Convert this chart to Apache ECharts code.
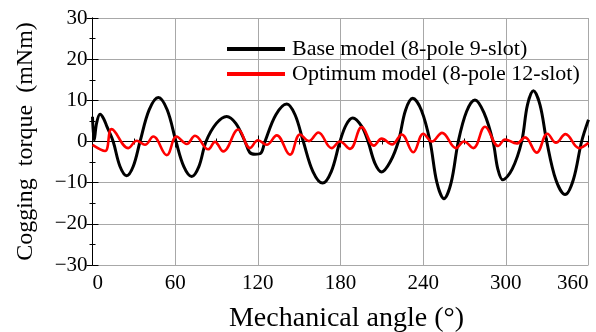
<!DOCTYPE html>
<html>
<head>
<meta charset="utf-8">
<script src="https://cdn.jsdelivr.net/npm/echarts@6/dist/echarts.min.js"></script>
<style>
html,body{margin:0;padding:0;background:#fff;}
#chart{width:596px;height:332px;}
</style>
</head>
<body>
<div id="chart"></div>
<script>
// Base model (8-pole 9-slot)
var baseAngles = [0, 1.2, 3, 5.5, 8, 10.5, 15, 19.9, 24.8, 29.6, 34.5, 41.1, 47.8, 54.2, 60.6, 66.3, 72, 77.2, 82.4, 89.9, 97.4, 104, 110.7, 114, 118, 122, 125.2, 133.1, 141, 147, 153, 160, 167, 173.3, 179.6, 184.2, 188.9, 195.5, 200, 205, 209.9, 216, 222, 227.2, 232.4, 238.7, 245, 250, 255.1, 260.3, 265.5, 271.5, 277.6, 284.1, 290.7, 294.2, 297.7, 304.6, 311.5, 315.7, 320, 324.8, 329.7, 336.3, 343, 349, 355, 360];
var baseValues = [6.0, 0.3, 4.5, 6.6, 5.6, 3.6, 0, -6.0, -8.3, -6.0, 0, 7.7, 10.7, 7.7, 0, -6.1, -8.5, -6.1, 0, 4.4, 6.1, 4.4, 0, -2.6, -3.1, -2.9, 0, 6.5, 9.1, 6.5, 0, -7.3, -10.1, -7.3, 0, 4.1, 5.7, 3.6, 0, -5.3, -7.4, -5.0, 0, 7.6, 10.5, 7.6, 0, -10.0, -13.9, -10.0, 0, 7.3, 10.1, 7.0, 0, -6.7, -9.3, -6.7, 0, 8.9, 12.3, 8.9, 0, -9.3, -12.9, -9.3, 0, 5.3];
// Optimum model (8-pole 12-slot)
var optAngles = [0, 9.1, 13.9, 26.0, 32.1, 38.1, 44.1, 53.9, 61.0, 68.4, 74.4, 84.0, 88.9, 94.9, 105.8, 114.3, 120.1, 126.4, 133.7, 143.3, 150.6, 157.1, 163.9, 173.6, 179.6, 186.9, 195.4, 204.3, 209.9, 217.4, 224.4, 232.8, 240.1, 246.4, 253.7, 263.8, 269.6, 276.4, 284.9, 294.5, 299.4, 307.9, 313.9, 322.4, 330.2, 336.4, 343.3, 353.1, 360];
var optValues = [-0.8, -2.3, 3.0, -1.6, 0.2, -0.8, 1.2, -3.3, 1.2, -0.6, 1.4, -1.9, -0.1, -2.4, 2.9, -1.6, 0.3, -0.8, 1.5, -3.2, 1.7, 0.1, 2.2, -1.6, 0.0, -1.8, 3.5, -1.0, 0.7, -0.7, 1.7, -2.6, 1.9, 0.0, 2.1, -1.6, 0.0, -1.6, 3.6, -1.1, 0.5, -0.5, 1.0, -2.7, 1.9, -0.3, 1.8, -1.6, -0.3];
// Axis ticks
var xTicks = [0, 60, 120, 180, 240, 300, 360];
var yTicks = [-30, -20, -10, 0, 10, 20, 30];

var seriesNames = ['Base model (8-pole 9-slot)', 'Optimum model (8-pole 12-slot)'];

function pairs(a, v) { return a.map(function (x, i) { return [x, v[i]]; }); }

var FONT = '"Liberation Serif", "Times New Roman", serif';
var chart = echarts.init(document.getElementById('chart'), null, {renderer: 'canvas'});

var tickStyle = {show: true, inside: true, length: 6, lineStyle: {color: '#000', width: 1}};
var minorStyle = {show: true, splitNumber: 2, length: 3, lineStyle: {color: '#000', width: 1}};
var gridLine = {show: true, lineStyle: {color: '#a8a8a8', width: 1}};

var option = {
  animation: false,
  backgroundColor: '#fff',
  grid: {left: 92.5, right: 7.5, top: 18, bottom: 67, containLabel: false, outerBoundsMode: 'none'},
  legend: {
    orient: 'vertical', left: 222, top: 33,
    icon: 'rect', itemWidth: 58, itemHeight: 4, itemGap: 3,
    textStyle: {fontFamily: FONT, fontSize: 22, color: '#000', lineHeight: 22, padding: [0,0,0,2]},
    data: seriesNames
  },
  xAxis: [{
    type: 'value', min: xTicks[0], max: xTicks[xTicks.length - 1], interval: 60,
    axisLine: {show: true, lineStyle: {color: '#000', width: 1}},
    axisTick: tickStyle, minorTick: minorStyle,
    splitLine: gridLine,
    axisLabel: {fontFamily: FONT, fontSize: 21, color: '#000', margin: 8, showMinLabel: true, showMaxLabel: true, alignMinLabel: 'left', alignMaxLabel: 'right'},
    name: 'Mechanical angle (°)', nameLocation: 'middle', nameGap: 40,
    nameTextStyle: {fontFamily: FONT, fontSize: 28, color: '#000', padding: [0,0,0,12]}
  }, {
    type: 'value', position: 'top', min: xTicks[0], max: xTicks[xTicks.length - 1], interval: 60,
    axisLine: {show: true, lineStyle: {color: '#000', width: 1}},
    axisTick: tickStyle, minorTick: minorStyle,
    splitLine: {show: false}, axisLabel: {show: false}
  }],
  yAxis: [{
    type: 'value', min: yTicks[0], max: yTicks[yTicks.length - 1], interval: 10,
    axisLine: {show: true, lineStyle: {color: '#000', width: 1}},
    axisTick: tickStyle, minorTick: minorStyle,
    splitLine: gridLine,
    axisLabel: {fontFamily: FONT, fontSize: 21, color: '#000', margin: 5,
      formatter: function (v) { return String(v).replace('-', '\u2212'); }},
    name: 'Cogging  torque  (mNm)', nameLocation: 'middle', nameGap: 55,
    nameTextStyle: {fontFamily: FONT, fontSize: 24, color: '#000'}
  }, {
    type: 'value', position: 'right', min: yTicks[0], max: yTicks[yTicks.length - 1], interval: 10,
    axisLine: {show: true, lineStyle: {color: '#000', width: 1}},
    axisTick: tickStyle, minorTick: minorStyle,
    splitLine: {show: false}, axisLabel: {show: false}
  }],
  series: [{
    name: seriesNames[0], type: 'line', data: pairs(baseAngles, baseValues),
    showSymbol: false, smooth: 0.35, lineStyle: {color: '#000', width: 3}, itemStyle: {color: '#000'}, z: 3
  }, {
    name: seriesNames[1], type: 'line', data: pairs(optAngles, optValues),
    showSymbol: false, smooth: 0.4, lineStyle: {color: '#ff0000', width: 2.6}, itemStyle: {color: '#ff0000'}, z: 4
  }]
};
chart.setOption(option);
</script>
</body>
</html>
